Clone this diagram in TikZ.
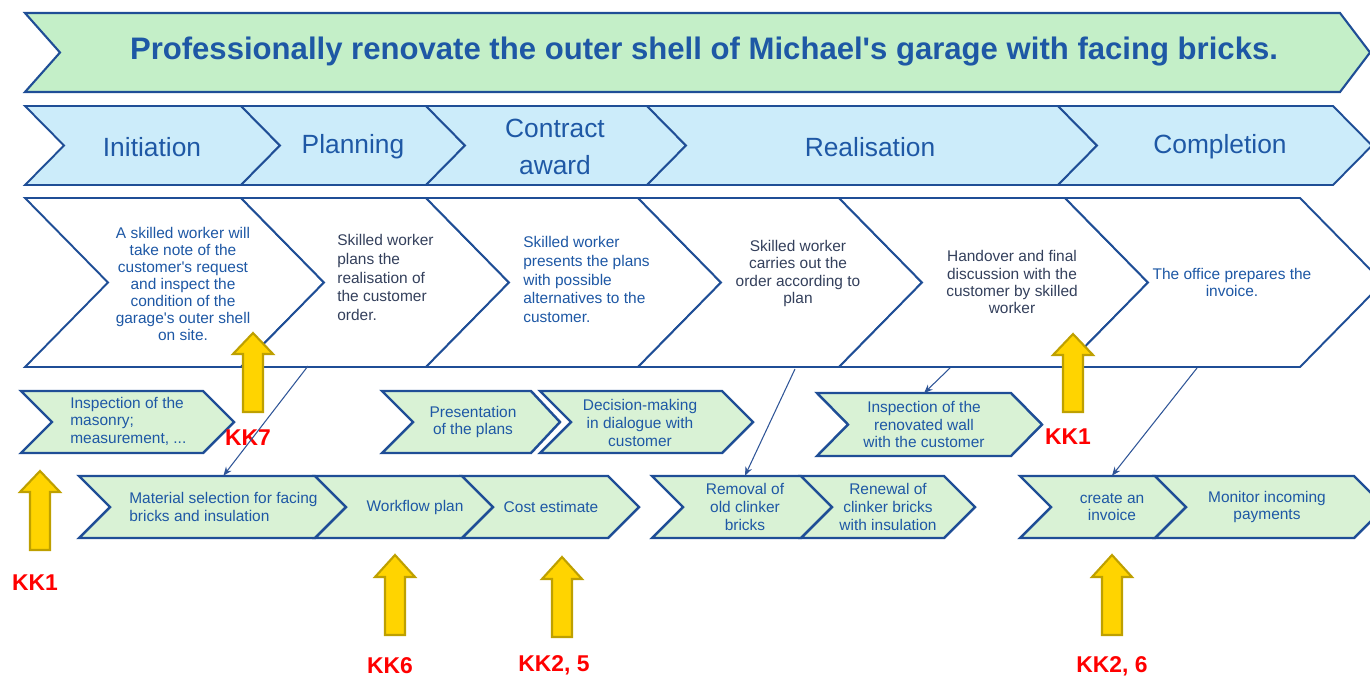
\documentclass[tikz,border=0pt]{standalone}
\usepackage{fontspec}
\setmainfont{Liberation Sans}
\usetikzlibrary{arrows.meta}

\definecolor{edgeblue}{RGB}{31,78,150}
\definecolor{titlegreen}{RGB}{196,239,200}
\definecolor{phaseblue}{RGB}{204,236,250}
\definecolor{stepgreen}{RGB}{217,242,213}
\definecolor{txtblue}{RGB}{30,88,165}
\definecolor{txtdark}{RGB}{52,64,92}
\definecolor{kkred}{RGB}{255,0,0}
\definecolor{arrowyellow}{RGB}{255,212,0}
\definecolor{arrowgold}{RGB}{190,160,0}
\definecolor{connblue}{RGB}{47,85,151}

\tikzset{
  goalchev/.style={fill=titlegreen,draw=edgeblue,line width=1.2pt,line join=miter},
  phasechev/.style={fill=phaseblue,draw=edgeblue,line width=1.1pt,line join=miter},
  descchev/.style={fill=white,draw=edgeblue,line width=1.1pt,line join=miter},
  stepchev/.style={fill=stepgreen,draw=edgeblue,line width=1.4pt,line join=miter},
  goaltext/.style={font=\fontsize{17.7}{20}\selectfont\bfseries,text=txtblue},
  phasetext/.style={font=\fontsize{15}{21}\selectfont,text=txtblue,align=center},
  desctext/.style={font=\fontsize{8.8}{9.7}\selectfont,text=txtblue,align=center,inner sep=0},
  leftdesc/.style={desctext,font=\fontsize{8.8}{10.7}\selectfont,align=left,anchor=west},
  steptext/.style={font=\fontsize{8.8}{10}\selectfont,text=txtblue,align=center,inner sep=0,minimum height=1.24cm},
  kklabel/.style={font=\fontsize{13}{15}\selectfont\bfseries,text=kkred},
  yarrow/.style={fill=arrowyellow,draw=arrowgold,line width=1.2pt,line join=miter},
  conn/.style={draw=connblue,line width=0.6pt,-{Stealth[length=5pt,width=4pt]}}
}

\begin{document}
\begin{tikzpicture}[x=0.02cm,y=-0.02cm]
\useasboundingbox (0,0) rectangle (1370,677);
\clip (0,0) rectangle (1370,677);

\draw[goalchev] (25,13) -- (1340,13) -- (1370,52.5) -- (1340,92) -- (25,92) -- (60,52.5) -- cycle;
\node[goaltext] (goal) at (704,52) {Professionally renovate the outer shell of Michael\textquotesingle s garage with facing bricks.};

\draw[phasechev] (25,106) -- (241,106) -- (280,145.5) -- (241,185) -- (25,185) -- (64,145.5) -- cycle;
\draw[phasechev] (241,106) -- (426,106) -- (465,145.5) -- (426,185) -- (241,185) -- (280,145.5) -- cycle;
\draw[phasechev] (426,106) -- (647,106) -- (686,145.5) -- (647,185) -- (426,185) -- (465,145.5) -- cycle;
\draw[phasechev] (647,106) -- (1058,106) -- (1097,145.5) -- (1058,185) -- (647,185) -- (686,145.5) -- cycle;
\draw[phasechev] (1058,106) -- (1333,106) -- (1372,145.5) -- (1333,185) -- (1058,185) -- (1097,145.5) -- cycle;
\node[phasetext] (ini) at (152,147) {Initiation};
\node[phasetext] (pla) at (353,147) {Planning};
\node[phasetext] (con) at (555,147) {Contract\\award};
\node[phasetext] (rea) at (870,147) {Realisation};
\node[phasetext] (com) at (1220,147) {Completion};

\draw[descchev] (25,198) -- (241,198) -- (324,282.5) -- (241,367) -- (25,367) -- (108,282.5) -- cycle;
\draw[descchev] (241,198) -- (426,198) -- (509,282.5) -- (426,367) -- (241,367) -- (324,282.5) -- cycle;
\draw[descchev] (426,198) -- (638,198) -- (721,282.5) -- (638,367) -- (426,367) -- (509,282.5) -- cycle;
\draw[descchev] (638,198) -- (839,198) -- (922,282.5) -- (839,367) -- (638,367) -- (721,282.5) -- cycle;
\draw[descchev] (839,198) -- (1065,198) -- (1148,282.5) -- (1065,367) -- (839,367) -- (922,282.5) -- cycle;
\draw[descchev] (1065,198) -- (1300,198) -- (1383,282.5) -- (1300,367) -- (1065,367) -- (1148,282.5) -- cycle;
\node[desctext] (d1) at (183,284) {A skilled worker will\\take note of the\\customer\textquotesingle s request\\and inspect the\\condition of the\\garage\textquotesingle s outer shell\\on site.};
\node[leftdesc,text=txtdark] (d2) at (337,277.5) {Skilled worker\\plans the\\realisation of\\the customer\\order.};
\node[leftdesc] (d3) at (523,279.5) {Skilled worker\\presents the plans\\with possible\\alternatives to the\\customer.};
\node[desctext,text=txtdark] (d4) at (798,273.5) {Skilled worker\\carries out the\\order according to\\plan};
\node[desctext,text=txtdark] (d5) at (1012,282) {Handover and final\\discussion with the\\customer by skilled\\worker};
\node[desctext] (d6) at (1232,282.5) {The office prepares the\\invoice.};

\draw[stepchev] (21,391) -- (203,391) -- (234,422) -- (203,453) -- (21,453) -- (52,422) -- cycle;
\draw[stepchev] (382,391) -- (531,391) -- (560,422) -- (531,453) -- (382,453) -- (413,422) -- cycle;
\draw[stepchev] (540,391) -- (722,391) -- (753,422) -- (722,453) -- (540,453) -- (571,422) -- cycle;
\draw[stepchev] (817,393) -- (1011,393) -- (1042,424.5) -- (1011,456) -- (817,456) -- (848,424.5) -- cycle;
\node[steptext,align=left,anchor=west] (insp) at (70,421) {Inspection of the\\masonry;\\measurement, ...};
\node[steptext] (pres) at (473,422) {Presentation\\of the plans};
\node[steptext] (deci) at (640,423) {Decision-making\\in dialogue with\\customer};
\node[steptext] (wall) at (924,424.5) {Inspection of the\\renovated wall\\with the customer};

\draw[stepchev] (79,476) -- (315,476) -- (346,507) -- (315,538) -- (79,538) -- (110,507) -- cycle;
\draw[stepchev] (315,476) -- (462,476) -- (493,507) -- (462,538) -- (315,538) -- (346,507) -- cycle;
\draw[stepchev] (462,476) -- (608,476) -- (639,507) -- (608,538) -- (462,538) -- (493,507) -- cycle;
\draw[stepchev] (652,476) -- (801,476) -- (832,507) -- (801,538) -- (652,538) -- (683,507) -- cycle;
\draw[stepchev] (801,476) -- (944,476) -- (975,507) -- (944,538) -- (801,538) -- (832,507) -- cycle;
\draw[stepchev] (1020,476) -- (1155,476) -- (1186,507) -- (1155,538) -- (1020,538) -- (1051,507) -- cycle;
\draw[stepchev] (1155,476) -- (1354,476) -- (1385,507) -- (1354,538) -- (1155,538) -- (1186,507) -- cycle;
\node[steptext,align=left,anchor=west] (mat) at (129,507) {Material selection for facing\\bricks and insulation};
\node[steptext] (flow) at (415,507) {Workflow plan};
\node[steptext] (cost) at (551,507) {Cost estimate};
\node[steptext] (rem) at (745,507) {Removal of\\old clinker\\bricks};
\node[steptext] (renew) at (888,507) {Renewal of\\clinker bricks\\with insulation};
\node[steptext] (inv) at (1112,507) {create an\\invoice};
\node[steptext] (mon) at (1267,507) {Monitor incoming\\payments};

\node[kklabel] (kk1a) at (35,583) {KK1};
\node[kklabel] (kk7) at (248,438) {KK7};
\node[kklabel] (kk6) at (390,666) {KK6};
\node[kklabel] (kk25) at (554,665) {KK2, 5};
\node[kklabel] (kk1b) at (1068,437) {KK1};
\node[kklabel] (kk26) at (1112,666) {KK2, 6};

\coordinate (c2) at (308,366);
\coordinate (c4) at (795,369);
\coordinate (c5) at (950,368);
\coordinate (c6) at (1197,368);
\draw[conn] (c2) -- (mat.north);
\draw[conn] (c4) -- (rem.north);
\draw[conn] (c5) -- (wall.north);
\draw[conn] (c6) -- (inv.north);

\draw[yarrow] (30,550) -- (30,492) -- (20,492) -- (40,471) -- (60,492) -- (50,492) -- (50,550) -- cycle;
\draw[yarrow] (243,412) -- (243,354) -- (233,354) -- (253,333) -- (273,354) -- (263,354) -- (263,412) -- cycle;
\draw[yarrow] (385,635) -- (385,577) -- (375,577) -- (395,555) -- (415,577) -- (405,577) -- (405,635) -- cycle;
\draw[yarrow] (552,637) -- (552,579) -- (542,579) -- (562,557) -- (582,579) -- (572,579) -- (572,637) -- cycle;
\draw[yarrow] (1063,412) -- (1063,355) -- (1053,355) -- (1073,334) -- (1093,355) -- (1083,355) -- (1083,412) -- cycle;
\draw[yarrow] (1102,635) -- (1102,577) -- (1092,577) -- (1112,555) -- (1132,577) -- (1122,577) -- (1122,635) -- cycle;

\end{tikzpicture}
\end{document}
